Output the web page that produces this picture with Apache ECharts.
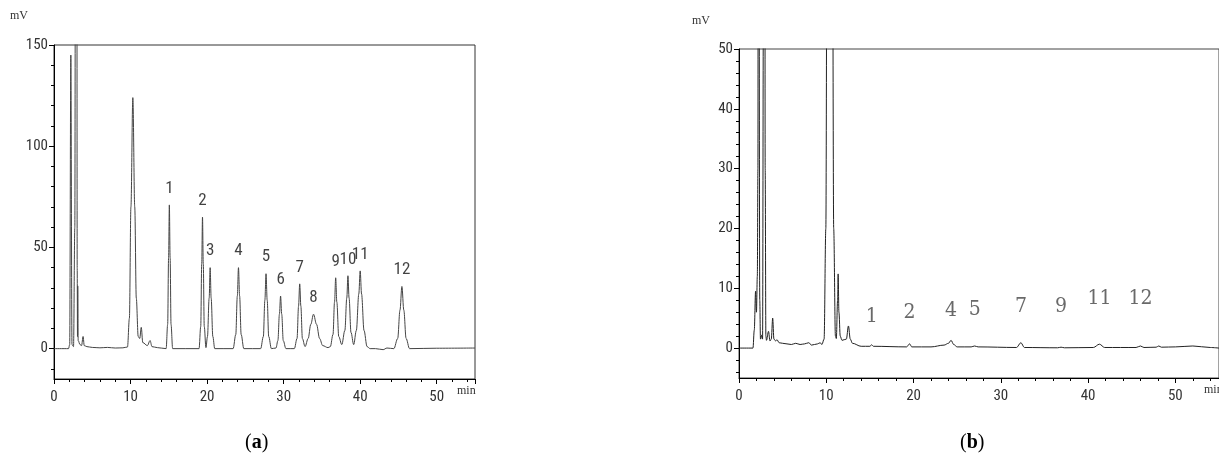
<!DOCTYPE html>
<html>
<head>
<meta charset="utf-8">
<script src="https://cdn.jsdelivr.net/npm/echarts@6/dist/echarts.min.js"></script>
<style>
  html, body { margin: 0; padding: 0; background: #fff; }
  #chart { width: 1219px; height: 472px; }
</style>
</head>
<body>
<div id="chart"></div>
<script>
// (a) chromatogram: [time (min), signal (mV)]
var traceA = [
    [0, 0], [1.9, 0], [2.05, 2], [2.2, 145], [2.35, 2], [2.55, 1], [2.72, 60], [2.85, 400],
    [2.97, 400], [3.03, 40], [3.07, 6], [3.1, 31], [3.16, 4], [3.4, 2], [3.6, 1.5], [3.8, 6],
    [3.95, 1.5], [4.3, 1], [5, 0.6], [6, 0.4], [7, 0.6], [8, 0.3], [9, 0.4], [9.6, 0.8],
    [9.85, 15], [10.05, 70], [10.3, 124], [10.55, 70], [10.75, 25], [11.0, 6], [11.2, 5],
    [11.4, 10.5], [11.6, 3], [12.2, 1.5], [12.55, 4], [12.8, 1], [13.5, 0.5],
    [14.65, 0], [14.85, 12], [14.97, 45], [15.07, 71], [15.17, 45], [15.29, 12], [15.5, 0],
    [18.95, 0], [19.17, 11], [19.3, 42], [19.4, 65], [19.5, 42], [19.63, 11], [19.85, 0.5],
    [20.05, 6], [20.27, 25], [20.4, 40], [20.53, 25], [20.75, 6], [21.0, 0],
    [23.4, 0], [23.75, 7], [23.95, 26], [24.1, 40], [24.25, 26], [24.45, 7], [24.8, 0],
    [27.0, 0], [27.35, 6], [27.55, 24], [27.7, 37], [27.85, 24], [28.05, 6], [28.4, 0],
    [29.0, 0.3], [29.25, 4], [29.45, 17], [29.6, 26], [29.75, 17], [29.95, 4], [30.3, 0],
    [31.4, 0], [31.75, 5], [31.95, 21], [32.1, 32], [32.25, 21], [32.45, 5], [32.8, 1],
    [33.2, 5], [33.55, 12], [33.9, 17], [34.3, 12], [34.7, 5], [35.1, 1.5], [35.8, 0.5],
    [36.1, 1], [36.45, 7], [36.65, 23], [36.8, 35], [36.95, 23], [37.2, 6], [37.6, 2],
    [38.0, 9], [38.25, 25], [38.4, 36], [38.55, 25], [38.8, 8], [39.15, 2],
    [39.5, 9], [39.82, 27], [40.0, 38.4], [40.18, 27], [40.5, 9], [40.9, 1], [41.3, 0],
    [42, 0], [43, -0.5], [43.5, 0.3], [44.4, 0],
    [44.9, 5], [45.2, 19], [45.45, 30.7], [45.7, 19], [46.0, 5], [46.45, 0], [50, 0.2], [55, 0.3]
];
var peakTimesA = [15.07, 19.4, 20.4, 24.1, 27.7, 29.6, 32.1, 33.9, 36.8, 38.4, 40.0, 45.45];
var peakHeightsA = [71, 65, 40, 40, 37, 26, 32, 17, 35, 36, 38.4, 30.7];
var peakNamesA = ['1', '2', '3', '4', '5', '6', '7', '8', '9', '10', '11', '12'];

// (b) chromatogram
var traceB = [
    [0, 0], [1.6, 0], [1.75, 3], [1.9, 9.5], [2.0, 6], [2.1, 12], [2.17, 30], [2.22, 200],
    [2.3, 200], [2.38, 8], [2.46, 1.5], [2.6, 2.2], [2.7, 1.5], [2.8, 60], [2.93, 200],
    [3.0, 30], [3.08, 2], [3.15, 1.3], [3.38, 2.8], [3.55, 1.2], [3.7, 1.5], [3.86, 5],
    [4.0, 1.5], [4.2, 1.2], [4.35, 1.4], [4.6, 0.9], [5, 0.8], [6, 0.6], [6.5, 0.8], [7, 0.6],
    [7.5, 0.7], [8, 0.9], [8.3, 0.5], [9, 0.7], [9.3, 0.9], [9.5, 0.6], [9.75, 1.5],
    [9.95, 20], [10.1, 80], [10.4, 150], [10.7, 80], [10.85, 20], [11.05, 2], [11.15, 1.6],
    [11.3, 8], [11.36, 12.4], [11.45, 6], [11.6, 2], [11.8, 1.3], [12.3, 1.5], [12.54, 3.7],
    [12.75, 1.5], [13, 0.8], [14, 0.3], [15, 0.3], [15.2, 0.55], [15.4, 0.3], [19.2, 0.2],
    [19.55, 0.7], [19.8, 0.2], [22, 0.2], [23.5, 0.5], [24.0, 0.8], [24.3, 1.3], [24.6, 0.6],
    [25, 0.2], [26.6, 0.2], [27, 0.35], [27.4, 0.2], [31.8, 0.1], [32.3, 0.9], [32.7, 0.1],
    [36.5, 0.05], [36.9, 0.15], [37.3, 0.05], [40.6, 0.1], [41.3, 0.65], [41.9, 0.1],
    [45.5, 0.1], [46, 0.35], [46.4, 0.1], [47.8, 0.15], [48.1, 0.35], [48.4, 0.15],
    [50, 0.2], [52, 0.35], [54, 0.1], [55, 0]
];
var labelTimesB = [15.2, 19.55, 24.3, 27.0, 32.3, 36.9, 41.3, 46.0];
var labelLevelsB = [5.2, 5.9, 6.2, 6.4, 7.0, 7.0, 8.2, 8.2];
var labelNamesB = ['1', '2', '4', '5', '7', '9', '11', '12'];

// axis ticks
var yMajorA = [0, 50, 100, 150];
var yMinorA = [-10, 0, 10, 20, 30, 40, 50, 60, 70, 80, 90, 100, 110, 120, 130, 140, 150];
var yMajorB = [0, 10, 20, 30, 40, 50];
var yMinorB = [-4, -2, 0, 2, 4, 6, 8, 10, 12, 14, 16, 18, 20, 22, 24, 26, 28, 30, 32, 34, 36, 38, 40, 42, 44, 46, 48, 50];

var tickFont = {fontFamily: 'Roboto Condensed', fontSize: 15, color: '#333'};

function xAxisCfg(grid) {
    return {
        gridIndex: grid, type: 'value', min: 0, max: 55, interval: 10,
        axisLine: {onZero: false, lineStyle: {color: '#000', width: 1}},
        axisTick: {length: 5, lineStyle: {color: '#000'}},
        minorTick: {show: true, splitNumber: 5, length: 3, lineStyle: {color: '#000'}},
        splitLine: {show: false},
        axisLabel: Object.assign({margin: 11, showMaxLabel: false}, tickFont)
    };
}

function yMajorCfg(grid, min, max, vals) {
    return {
        gridIndex: grid, type: 'value', min: min, max: max, position: 'left',
        axisLine: {show: true, onZero: false, lineStyle: {color: '#000', width: 1}},
        axisTick: {show: true, length: 5, customValues: vals, lineStyle: {color: '#000'}},
        axisLabel: Object.assign({margin: 6, customValues: vals}, tickFont),
        splitLine: {show: false}
    };
}

function yMinorCfg(grid, min, max, vals) {
    return {
        gridIndex: grid, type: 'value', min: min, max: max, position: 'left',
        axisLine: {show: false},
        axisTick: {show: true, length: 3, customValues: vals, lineStyle: {color: '#000'}},
        axisLabel: {show: false},
        splitLine: {show: false}
    };
}

var chart = echarts.init(document.getElementById('chart'));

var option = {
    backgroundColor: '#fff',
    animation: false,
    grid: [
        {left: 54, top: 45, width: 421, height: 334, show: true, borderColor: '#333', borderWidth: 1},
        {left: 739, top: 49, width: 484, height: 329, show: true, borderColor: '#444', borderWidth: 1}
    ],
    xAxis: [xAxisCfg(0), xAxisCfg(1)],
    yAxis: [
        yMajorCfg(0, -15, 150, yMajorA),
        yMinorCfg(0, -15, 150, yMinorA),
        yMajorCfg(1, -5, 50, yMajorB),
        yMinorCfg(1, -5, 50, yMinorB)
    ],
    graphic: [
        {type: 'text', left: 10, top: 10, style: {text: 'mV', fontFamily: 'Liberation Serif', fontSize: 12, fill: '#333'}},
        {type: 'text', left: 457, top: 385, style: {text: 'min', fontFamily: 'Liberation Serif', fontSize: 12, fill: '#333'}},
        {type: 'text', left: 692, top: 15, style: {text: 'mV', fontFamily: 'Liberation Serif', fontSize: 12, fill: '#333'}},
        {type: 'text', left: 1204, top: 384, style: {text: 'min', fontFamily: 'Liberation Serif', fontSize: 12, fill: '#333'}},
        {type: 'text', left: 245, top: 433, style: {
            text: '({a|a})', fontFamily: 'Liberation Serif', fontSize: 20, fill: '#000',
            rich: {a: {fontWeight: 'bold', fontFamily: 'Liberation Serif', fontSize: 20}}
        }},
        {type: 'text', left: 960, top: 433, style: {
            text: '({b|b})', fontFamily: 'Liberation Serif', fontSize: 20, fill: '#000',
            rich: {b: {fontWeight: 'bold', fontFamily: 'Liberation Serif', fontSize: 20}}
        }}
    ],
    series: [
        {
            type: 'line', xAxisIndex: 0, yAxisIndex: 0, data: traceA,
            smooth: 0.35, smoothMonotone: 'x', symbol: 'none', clip: true,
            lineStyle: {color: '#444', width: 1}
        },
        {
            type: 'scatter', xAxisIndex: 0, yAxisIndex: 0, symbolSize: 0,
            data: peakTimesA.map(function (t, i) { return [t, peakHeightsA[i]]; }),
            label: {
                show: true, position: 'top', distance: 8,
                formatter: function (p) { return peakNamesA[p.dataIndex]; },
                fontFamily: 'Roboto Condensed', fontSize: 17, color: '#111'
            }
        },
        {
            type: 'line', xAxisIndex: 1, yAxisIndex: 2, data: traceB,
            smooth: 0.35, smoothMonotone: 'x', symbol: 'none', clip: true,
            lineStyle: {color: '#222', width: 1}
        },
        {
            type: 'scatter', xAxisIndex: 1, yAxisIndex: 2, symbolSize: 0,
            data: labelTimesB.map(function (t, i) { return [t, labelLevelsB[i]]; }),
            label: {
                show: true, position: 'inside',
                formatter: function (p) { return labelNamesB[p.dataIndex]; },
                fontFamily: 'DejaVu Serif Condensed', fontSize: 21, color: '#444'
            }
        }
    ]
};

chart.setOption(option);
</script>
</body>
</html>
